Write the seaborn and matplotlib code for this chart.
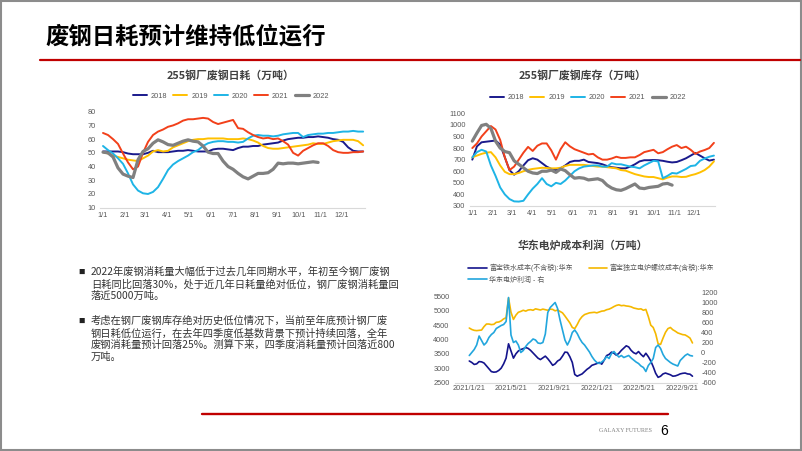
import numpy as np
import pandas as pd
import matplotlib
matplotlib.use("Agg")
import matplotlib.pyplot as plt
import seaborn as sns
from matplotlib.lines import Line2D
from matplotlib.patches import Rectangle

sns.set_theme(style="white")
plt.rcParams["font.family"] = ["Liberation Sans", "Noto Sans CJK SC", "DejaVu Sans"]
plt.rcParams["axes.unicode_minus"] = False
CJK = ["Noto Sans CJK SC", "DejaVu Sans"]

# ---------------- data ----------------
slide_title = "废钢日耗预计维持低位运行"
title_use = "255钢厂废钢日耗（万吨）"
title_stock = "255钢厂废钢库存（万吨）"
title_cost = "华东电炉成本利润（万吨）"

years = ["2018", "2019", "2020", "2021", "2022"]
year_colors = ["#1A1A8C", "#FFC000", "#1EB4E6", "#F2401A", "#808080"]
month_labels = ["1/1", "2/1", "3/1", "4/1", "5/1", "6/1", "7/1", "8/1", "9/1", "10/1", "11/1", "12/1"]
week_index = list(range(53))  # weekly observations through the year

use_2018 = [51, 51, 51, 51, 50.5, 49.5, 49, 49, 49, 50,
            51.5, 50.5, 50.5, 50.5, 51, 51.5, 51.5, 52, 51.5, 51,
            51, 51, 52.5, 53, 53, 52.5, 52, 53.5, 54.5, 54.5,
            55, 55, 56, 56.5, 57, 57.5, 59, 60, 60.5, 61,
            61, 61.5, 61.5, 62, 61.5, 61, 60, 59.5, 58, 54,
            51.5, 51, 51]
use_2019 = [50.5, 49.5, 48, 47, 46, 45, 44.5, 44, 46, 48,
            51, 52, 51, 51.5, 54, 55.5, 57, 58.5, 59.5, 60,
            60, 60.5, 60.5, 60.5, 60.5, 60, 60, 60, 60.5, 60,
            59, 57.5, 55, 53.5, 53, 53, 53.5, 54, 54.5, 55,
            55.5, 56, 57, 56.5, 56.5, 57.5, 58.5, 59, 59.5, 59.5,
            59.5, 58.5, 55.5]
use_2020 = [55, 52, 49.5, 46, 42, 35, 27, 22.5, 20.5, 20,
            21.5, 25, 31, 37.5, 41.5, 44, 46, 48, 50.5, 52,
            55, 57, 58, 58.5, 58.5, 58, 58, 57.5, 58, 60.5,
            62.5, 63, 62.5, 62.5, 62, 62.5, 63.5, 64, 64.5, 64.5,
            61.5, 63, 63.5, 64, 64, 64.5, 64.5, 65, 65.5, 65.5,
            66, 65.5, 65.5]
use_2021 = [64.5, 63, 60, 56.5, 49.5, 43, 38, 40, 50, 58,
            63, 65.5, 67, 69, 70, 71.5, 73.5, 74.5, 74.5, 75,
            75.5, 75, 72.5, 71, 72, 73, 74, 68, 67.5, 65,
            63, 61.5, 60.5, 61, 60, 60.5, 58.5, 56, 50, 48,
            51.5, 53.5, 55.5, 57, 57, 55, 52, 50.5, 50, 50,
            50.5, 50.5, 51]
use_2022 = [50.5, 50, 47, 39, 34.5, 33, 32, 45, 51, 53,
            57, 59.5, 58, 56, 55.5, 57, 58.5, 59.5, 58.5, 58,
            55, 50.5, 49.5, 49.5, 44, 40, 38, 35, 32.5, 31,
            33, 35, 35, 35.5, 38, 42.5, 42, 42.5, 42.5, 42,
            42.5, 43, 43.5, 43]

stock_2018 = [700, 815, 850, 855, 860, 865, 830, 720, 610, 570,
              600, 650, 695, 712, 700, 670, 640, 620, 610, 625,
              650, 680, 690, 690, 700, 680, 675, 670, 660, 645,
              635, 630, 625, 625, 640, 660, 685, 695, 695, 697,
              695, 690, 682, 676, 680, 695, 712, 735, 758, 735,
              712, 692, 700]
stock_2019 = [720, 735, 750, 760, 765, 720, 650, 595, 575, 575,
              585, 600, 612, 620, 625, 630, 628, 625, 625, 630,
              645, 655, 655, 655, 655, 650, 645, 640, 640, 635,
              630, 625, 610, 605, 590, 575, 565, 555, 550, 550,
              540, 530, 545, 555, 555, 550, 552, 565, 575, 590,
              610, 640, 685]
stock_2020 = [720, 765, 785, 770, 650, 560, 460, 400, 360, 340,
              338, 345, 400, 450, 490, 540, 490, 470, 500, 490,
              520, 560, 600, 625, 640, 645, 650, 650, 640, 640,
              670, 660, 660, 650, 640, 635, 625, 650, 670, 690,
              685, 540, 560, 585, 580, 600, 620, 645, 650, 690,
              710, 725, 735]
stock_2021 = [800, 840, 900, 945, 990, 960, 870, 720, 610, 640,
              700, 760, 810, 775, 820, 840, 840, 780, 700, 790,
              850, 815, 790, 775, 760, 745, 750, 720, 700, 700,
              710, 725, 715, 715, 720, 720, 740, 765, 775, 785,
              755, 765, 790, 812, 826, 800, 812, 785, 750, 770,
              783, 800, 845]
stock_2022 = [860, 930, 995, 1005, 970, 860, 800, 770, 760, 690,
              660, 630, 600, 585, 580, 600, 600, 610, 590, 620,
              605, 570, 540, 545, 540, 525, 530, 535, 520, 480,
              455, 440, 435, 450, 470, 490, 455, 450, 460, 465,
              470, 490, 495, 480]

cost_start = "2021-01-21"
cost_tick_dates = ["2021-01-21", "2021-05-21", "2021-09-21", "2022-01-21", "2022-05-21", "2022-09-21"]
cost_tick_labels = ["2021/1/21", "2021/5/21", "2021/9/21", "2022/1/21", "2022/5/21", "2022/9/21"]
cost_names = ["富宝铁水成本(不含税):华东", "富宝独立电炉螺纹成本(含税):华东", "华东电炉利润 - 右"]
cost_colors = ["#14148C", "#F5B800", "#22A6DD"]

iron_cost = [3250, 3200, 3130, 3150, 3230, 3220, 3180, 3080, 2980, 2880,
             2860, 2870, 2920, 3000, 3150, 3350, 3850, 3600, 3350, 3500,
             3600, 3650, 3680, 3720, 3690, 3620, 3530, 3440, 3350, 3300,
             3360, 3420, 3330, 3220, 3100, 3150, 3250, 3300, 3420, 3560,
             3550, 3400, 3200, 2780, 2720, 2760, 2800, 2880, 2960, 3020,
             3100, 3130, 3160, 3200, 3140, 3280, 3440, 3480, 3560, 3520,
             3450, 3520, 3620, 3700, 3780, 3740, 3620, 3540, 3500, 3580,
             3480, 3400, 3520, 3400, 3250, 3050, 2820, 2680, 2720, 2800,
             2830, 2800, 2770, 2720, 2730, 2760, 2800, 2820, 2830, 2800,
             2790, 2720]
rebar_cost = [4400, 4350, 4320, 4310, 4320, 4330, 4450, 4540, 4540, 4520,
              4530, 4600, 4610, 4650, 4720, 4760, 5450, 4950, 4700, 4850,
              4950, 4980, 5020, 4990, 5030, 5040, 5020, 5070, 5050, 5030,
              5060, 5040, 5020, 5060, 5050, 5000, 5030, 4980, 4930, 4820,
              4700, 4580, 4420, 4380, 4520, 4690, 4800, 4870, 4900, 4930,
              4940, 4950, 4930, 4960, 4990, 5000, 5040, 5060, 5100, 5150,
              5190, 5210, 5180, 5190, 5170, 5160, 5140, 5100, 5080, 5060,
              5070, 5020, 5050, 4800, 4500, 4420, 4200, 3850, 3830, 4050,
              4250, 4380, 4420, 4340, 4290, 4230, 4200, 4170, 4160, 4110,
              4050, 3880]
eaf_profit = [-60, 0, 60, 150, 330, 240, 150, 200, 300, 360,
              400, 480, 510, 540, 560, 620, 1100, 350, 200, 230,
              150, 0, 40, 120, 180, 220, 270, 250, 190, 180,
              200, 370, 800, 900, 950, 1000, 880, 650, 450, 250,
              150, 250, 400, 450, 380, 280, 200, 150, 80, 10,
              -80, -150, -200, -220, -190, -150, -80, -120, -20, 20,
              -40, -90, -60, -100, -80, -60, -110, -150, -190, -220,
              -270, -300, -380, -260, -200, -120, 100, 150, 80, -40,
              -120, -160, -200, -230, -250, -270, -160, -110, -60, -30,
              -60, -70]

bullet_1 = ["2022年废钢消耗量大幅低于过去几年同期水平，年初至今钢厂废钢",
            "日耗同比回落30%，处于近几年日耗量绝对低位，钢厂废钢消耗量回",
            "落近5000万吨。"]
bullet_2 = ["考虑在钢厂废钢库存绝对历史低位情况下，当前至年底预计钢厂废",
            "钢日耗低位运行，在去年四季度低基数背景下预计持续回落，全年",
            "废钢消耗量预计回落25%。测算下来，四季度消耗量预计回落近800",
            "万吨。"]
footer_brand = "GALAXY FUTURES"
page_no = "6"

# ---------------- figure ----------------
W, H = 802, 451
fig = plt.figure(figsize=(W / 100, H / 100), dpi=100)
fig.patch.set_facecolor("white")


def fx(px):
    return px / W


def fy(py):
    return 1 - py / H


def axes_px(left, top, right, bottom):
    return fig.add_axes([fx(left), fy(bottom), (right - left) / W, (bottom - top) / H])


def style(ax, ypad=3, xpad=3):
    for s in ["left", "right", "top"]:
        ax.spines[s].set_visible(False)
    ax.spines["bottom"].set_color("#D9D9D9")
    ax.spines["bottom"].set_linewidth(0.8)
    ax.tick_params(axis="both", length=0, labelsize=5.3, labelcolor="#595959")
    ax.tick_params(axis="y", pad=ypad)
    ax.tick_params(axis="x", pad=xpad)
    ax.grid(False)
    ax.set_xlabel("")
    ax.set_ylabel("")
    ax.set_facecolor("none")


# slide frame and header
fig.add_artist(Rectangle((0.0015, 0.0025), 0.997, 0.995, transform=fig.transFigure,
                         fill=False, edgecolor="#8C8C8C", linewidth=1.5))
fig.add_artist(Line2D([fx(40), fx(800)], [fy(60.3), fy(60.3)], color="#C00000", linewidth=1.6))
fig.text(fx(45), fy(36), slide_title, fontsize=16.8, fontweight="bold", family=CJK,
         ha="left", va="center", color="black")

month_days = list(pd.date_range("2021-01-01", periods=12, freq="MS").dayofyear - 1)
day_of_year = [7 * w for w in week_index]


def year_chart(ax, series, ylim, yticks, title, title_x, title_y, leg_x, leg_y):
    for name, vals, col in zip(years, series, year_colors):
        lw = 2.3 if name == "2022" else 1.4
        sns.lineplot(x=day_of_year[:len(vals)], y=vals, ax=ax, color=col,
                     linewidth=lw, label=name, legend=False)
    ax.set_xlim(-4, 366)
    ax.set_ylim(*ylim)
    ax.set_yticks(yticks)
    ax.set_xticks(month_days)
    ax.set_xticklabels(month_labels)
    style(ax)
    h, l = ax.get_legend_handles_labels()
    fig.legend(h, l, loc="center", bbox_to_anchor=(fx(leg_x), fy(leg_y)),
               bbox_transform=fig.transFigure, ncol=5, frameon=False, fontsize=5.3,
               handlelength=1.9, handletextpad=0.5, columnspacing=0.85,
               labelcolor="#595959")
    fig.text(fx(title_x), fy(title_y), title, fontsize=7.8, fontweight="bold",
             color="#404040", ha="center", va="center", family=CJK)


ax1 = axes_px(103 - 4 * 0.7147, 111.7, 103 + 366 * 0.7147, 207.7)
year_chart(ax1, [use_2018, use_2019, use_2020, use_2021, use_2022], (10, 80),
           list(range(10, 81, 10)), title_use, 231, 75, 231, 96)

ax2 = axes_px(472.3 - 4 * 0.6638, 113.3, 472.3 + 366 * 0.6638, 206)
year_chart(ax2, [stock_2018, stock_2019, stock_2020, stock_2021, stock_2022], (300, 1100),
           list(range(300, 1101, 100)), title_stock, 583, 75, 588, 97.7)

# ---------------- cost / profit chart ----------------
start = pd.Timestamp(cost_start)
cost_days = [7 * k for k in range(len(iron_cost))]
tick_days = [(pd.Timestamp(d) - start).days for d in cost_tick_dates]
pxd = (682.3 - 469.3) / tick_days[-1]

ax3 = axes_px(469.3 - 40 * pxd, 292.5, 469.3 + 650 * pxd, 382.5)
sns.lineplot(x=cost_days, y=iron_cost, ax=ax3, color=cost_colors[0], linewidth=1.2,
             label=cost_names[0], legend=False)
sns.lineplot(x=cost_days, y=rebar_cost, ax=ax3, color=cost_colors[1], linewidth=1.2,
             label=cost_names[1], legend=False)
ax3.set_xlim(-40, 650)
ax3.set_ylim(2500, 5640)
ax3.set_yticks(list(range(2500, 5501, 500)))
ax3.set_xticks(tick_days)
ax3.set_xticklabels(cost_tick_labels)
style(ax3, ypad=4, xpad=1.8)

ax3r = ax3.twinx()
sns.lineplot(x=cost_days, y=eaf_profit, ax=ax3r, color=cost_colors[2], linewidth=1.2,
             label=cost_names[2], legend=False)
ax3r.set_ylim(-600, 1200)
ax3r.set_yticks(list(range(-600, 1201, 200)))
style(ax3r, ypad=3)
ax3r.spines["bottom"].set_visible(False)

h1, l1 = ax3.get_legend_handles_labels()
h2, l2 = ax3r.get_legend_handles_labels()
fig.legend([h1[0], h2[0], h1[1]], [l1[0], l2[0], l1[1]], loc="center left",
           bbox_to_anchor=(fx(465), fy(273.7)), bbox_transform=fig.transFigure,
           ncol=2, frameon=False, fontsize=5.0, handlelength=2.65, handletextpad=0.3,
           columnspacing=2.3, labelspacing=0.6, borderpad=0, labelcolor="#595959")
fig.text(fx(583), fy(245), title_cost, fontsize=7.8, fontweight="bold",
         color="#404040", ha="center", va="center", family=CJK)

# ---------------- bullet text ----------------
for lines, y0 in ((bullet_1, 272), (bullet_2, 321)):
    fig.text(fx(78.5), fy(y0), "■", fontsize=4.6, family=CJK, ha="left", va="center", color="#222222")
    for i, line in enumerate(lines):
        fig.text(fx(91), fy(y0 + 12.1 * i), line, fontsize=7.4, family=CJK,
                 ha="left", va="center", color="#333333")

# ---------------- footer ----------------
fig.add_artist(Line2D([fx(201.7), fx(668)], [fy(414), fy(414)], color="#C00000", linewidth=1.7))
fig.text(fx(625), fy(431), footer_brand, fontsize=4.3, family=["Liberation Serif", "DejaVu Serif"],
         ha="center", va="center", color="#808080")
fig.text(fx(664), fy(431), page_no, fontsize=10, ha="center", va="center", color="black")

fig.savefig("out.png", dpi=100)
